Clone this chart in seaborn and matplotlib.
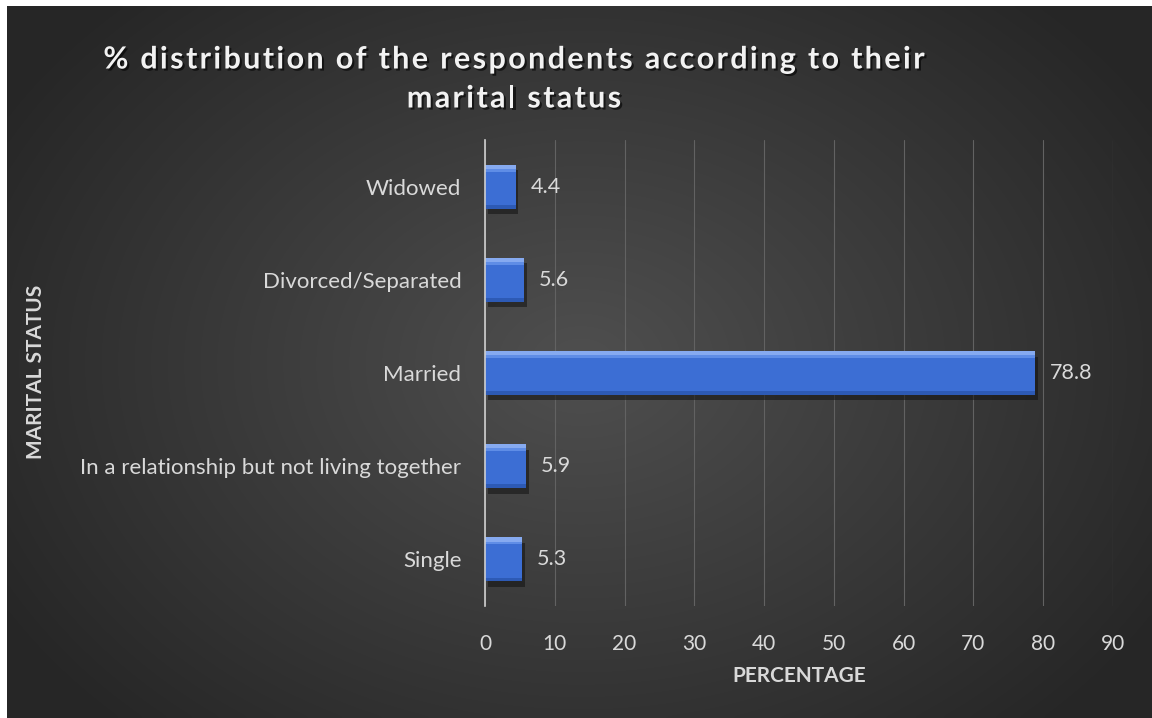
import numpy as np
import matplotlib
matplotlib.use("Agg")
import matplotlib.pyplot as plt
import matplotlib.patheffects as pe
from matplotlib.patches import Rectangle
import seaborn as sns
import pandas as pd

categories = ["Widowed", "Divorced/Separated", "Married",
              "In a relationship but not living together", "Single"]
values = [4.4, 5.6, 78.8, 5.9, 5.3]
xticks = [0, 10, 20, 30, 40, 50, 60, 70, 80, 90]
title_lines = ["% distribution of the respondents according to their", "marital status"]
xlabel = "PERCENTAGE"
ylabel = "MARITAL STATUS"

df = pd.DataFrame({"status": categories, "pct": values})

sns.set_theme(style="white")
plt.rcParams['font.family'] = ['Lato', 'DejaVu Sans']

W, H = 1152, 718
fig = plt.figure(figsize=(W / 100, H / 100), dpi=100)
fig.patch.set_facecolor("white")

# dark chart area inset by white border at left/top
fig.patches.append(Rectangle((7 / W, 0), 1 - 7 / W, 1 - 6 / H, transform=fig.transFigure,
                             facecolor="#272727", edgecolor="none", zorder=-10))
bg = fig.add_axes([7 / W, 0, 1 - 7 / W, 1 - 6 / H])
bg.set_axis_off()
yy, xx = np.mgrid[0:200, 0:320]
cx, cy = 160, 100
r = np.sqrt(((xx - cx) / 200) ** 2 + ((yy - cy) / 150) ** 2)
v = np.clip(0.31 - 0.17 * r, 0.15, 0.31)
img = np.dstack([v, v, v])
bg.imshow(img, aspect="auto", extent=[0, 1, 0, 1], interpolation="bicubic")
bg.set_xlim(0, 1); bg.set_ylim(0, 1)

ax = fig.add_axes([485 / W, 1 - 606 / H, (1113 - 485) / W, (606 - 140) / H])
ax.set_facecolor("none")

sns.barplot(data=df, x="pct", y="status", order=categories, orient="h",
            color="#3c6ed4", width=0.47, saturation=1, ax=ax, zorder=3,
            edgecolor="none")
for p in ax.patches:
    p.set_path_effects([pe.SimplePatchShadow(offset=(2, -4), shadow_rgbFace="#121212", alpha=0.55),
                        pe.Normal()])
# bevel: light top edge, darker bottom edge
ypos = np.arange(len(categories))
ax.barh(ypos - 0.21, values, height=0.05, color="#86aaf0", zorder=4, edgecolor="none")
ax.barh(ypos - 0.175, values, height=0.03, color="#5f8de6", zorder=4, edgecolor="none")
ax.barh(ypos + 0.215, values, height=0.04, color="#2d5ab5", zorder=4, edgecolor="none")

ax.set_xlim(0, 90)
ax.set_ylim(len(categories) - 0.5, -0.5)
ax.set_xticks(xticks)
ax.set_xticklabels([str(t) for t in xticks])
ax.grid(axis="x", color="#626262", linewidth=0.8, zorder=0)
ax.grid(axis="y", visible=False)
for s in ["top", "right", "bottom"]:
    ax.spines[s].set_visible(False)
ax.spines["left"].set_color("#cfcfcf")
ax.spines["left"].set_linewidth(1.2)
ax.spines["left"].set_zorder(5)
ax.tick_params(axis="x", length=0, colors="#d9d9d9", labelsize=15, pad=20)
ax.tick_params(axis="y", length=0, colors="#d9d9d9", labelsize=16, pad=17)

for i, v in enumerate(values):
    ax.text(v + 2.1, i, f"{v}", va="center", ha="left", color="#d9d9d9", fontsize=15.5)

ax.set_xlabel(xlabel, color="#d9d9d9", fontsize=15, fontweight="bold", labelpad=9)
ax.set_ylabel("")
fig.text(36 / W, 1 - 372 / H, ylabel, rotation=90, color="#d9d9d9", fontsize=15,
         fontweight="bold", ha="center", va="center")

# title with letter spacing (characters laid out one by one)
renderer = fig.canvas.get_renderer()
tfs = 22
spacing = 2.35  # px between characters
shadow = [pe.withSimplePatchShadow(offset=(1.5, -1.5), shadow_rgbFace="black", alpha=0.6)]
for line, yc in zip(title_lines, [57, 96]):
    widths = []
    for ch in line:
        t = fig.text(0, 0, ch if ch != " " else "a a", fontsize=tfs, fontweight="bold")
        w = t.get_window_extent(renderer).width
        if ch == " ":
            t2 = fig.text(0, 0, "aa", fontsize=tfs, fontweight="bold")
            w = w - t2.get_window_extent(renderer).width
            t2.remove()
        t.remove()
        widths.append(w)
    total = sum(widths) + spacing * (len(line) - 1)
    x = 514 - total / 2
    for ch, w in zip(line, widths):
        if ch != " ":
            fig.text(x / W, 1 - yc / H, ch, fontsize=tfs, fontweight="bold", color="#f2f2f2",
                     ha="left", va="center_baseline", path_effects=shadow)
        x += w + spacing

fig.savefig("out.png", dpi=100, facecolor=fig.get_facecolor())
